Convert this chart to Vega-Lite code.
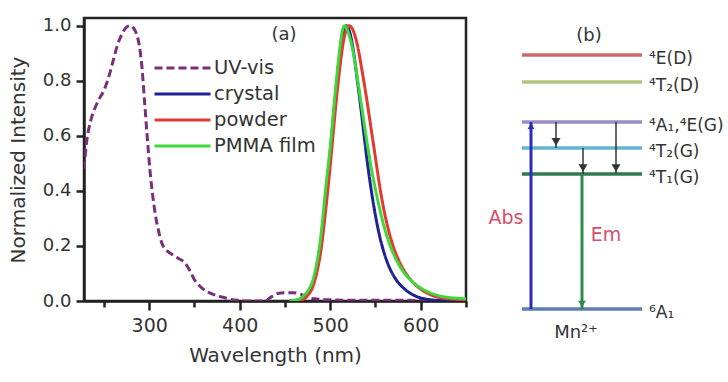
{
  "$schema": "https://vega.github.io/schema/vega-lite/v6.json",
  "padding": {"left": 7, "top": 15, "right": 0, "bottom": 0},
  "spacing": 10,
  "resolve": {"scale": {"color": "independent", "strokeDash": "independent"}, "legend": {"color": "independent", "strokeDash": "independent"}},
  "config": {
    "view": {"stroke": null},
    "font": "DejaVu Sans",
    "text": {"font": "DejaVu Sans"}
  },
  "datasets": {
    "spectra": [
      {"s":"UV-vis","wl":228,"v":0.48},{"s":"UV-vis","wl":231,"v":0.58},{"s":"UV-vis","wl":235,"v":0.65},{"s":"UV-vis","wl":240,"v":0.7},{"s":"UV-vis","wl":245,"v":0.735},{"s":"UV-vis","wl":250,"v":0.765},{"s":"UV-vis","wl":255,"v":0.81},{"s":"UV-vis","wl":260,"v":0.87},{"s":"UV-vis","wl":265,"v":0.93},{"s":"UV-vis","wl":270,"v":0.97},{"s":"UV-vis","wl":275,"v":0.995},{"s":"UV-vis","wl":279,"v":1.0},{"s":"UV-vis","wl":283,"v":0.99},{"s":"UV-vis","wl":286,"v":0.97},{"s":"UV-vis","wl":289,"v":0.93},{"s":"UV-vis","wl":292,"v":0.85},{"s":"UV-vis","wl":295,"v":0.72},{"s":"UV-vis","wl":298,"v":0.59},{"s":"UV-vis","wl":301,"v":0.47},{"s":"UV-vis","wl":304,"v":0.38},{"s":"UV-vis","wl":307,"v":0.31},{"s":"UV-vis","wl":310,"v":0.26},{"s":"UV-vis","wl":314,"v":0.21},{"s":"UV-vis","wl":319,"v":0.185},{"s":"UV-vis","wl":325,"v":0.17},{"s":"UV-vis","wl":332,"v":0.155},{"s":"UV-vis","wl":339,"v":0.14},{"s":"UV-vis","wl":345,"v":0.11},{"s":"UV-vis","wl":350,"v":0.077},{"s":"UV-vis","wl":355,"v":0.057},{"s":"UV-vis","wl":361,"v":0.04},{"s":"UV-vis","wl":370,"v":0.025},{"s":"UV-vis","wl":380,"v":0.015},{"s":"UV-vis","wl":390,"v":0.006},{"s":"UV-vis","wl":400,"v":0.002},{"s":"UV-vis","wl":415,"v":0.0},{"s":"UV-vis","wl":428,"v":0.0},{"s":"UV-vis","wl":435,"v":0.015},{"s":"UV-vis","wl":442,"v":0.027},{"s":"UV-vis","wl":450,"v":0.03},{"s":"UV-vis","wl":460,"v":0.03},{"s":"UV-vis","wl":467,"v":0.025},{"s":"UV-vis","wl":474,"v":0.014},{"s":"UV-vis","wl":482,"v":0.008},{"s":"UV-vis","wl":495,"v":0.005},{"s":"UV-vis","wl":520,"v":0.003},{"s":"UV-vis","wl":560,"v":0.003},{"s":"UV-vis","wl":600,"v":0.002},{"s":"UV-vis","wl":650,"v":0.002},
      {"s":"crystal","wl":455,"v":0.0},{"s":"crystal","wl":460,"v":0.002},{"s":"crystal","wl":465,"v":0.004},{"s":"crystal","wl":470,"v":0.009},{"s":"crystal","wl":475,"v":0.025},{"s":"crystal","wl":480,"v":0.055},{"s":"crystal","wl":485,"v":0.12},{"s":"crystal","wl":490,"v":0.22},{"s":"crystal","wl":495,"v":0.38},{"s":"crystal","wl":500,"v":0.54},{"s":"crystal","wl":505,"v":0.72},{"s":"crystal","wl":510,"v":0.88},{"s":"crystal","wl":514,"v":0.97},{"s":"crystal","wl":518,"v":1.0},{"s":"crystal","wl":522,"v":0.97},{"s":"crystal","wl":526,"v":0.9},{"s":"crystal","wl":530,"v":0.8},{"s":"crystal","wl":535,"v":0.67},{"s":"crystal","wl":540,"v":0.53},{"s":"crystal","wl":545,"v":0.41},{"s":"crystal","wl":550,"v":0.31},{"s":"crystal","wl":555,"v":0.23},{"s":"crystal","wl":560,"v":0.17},{"s":"crystal","wl":565,"v":0.125},{"s":"crystal","wl":570,"v":0.092},{"s":"crystal","wl":575,"v":0.068},{"s":"crystal","wl":580,"v":0.05},{"s":"crystal","wl":585,"v":0.036},{"s":"crystal","wl":590,"v":0.025},{"s":"crystal","wl":595,"v":0.017},{"s":"crystal","wl":600,"v":0.011},{"s":"crystal","wl":610,"v":0.005},{"s":"crystal","wl":620,"v":0.002},{"s":"crystal","wl":650,"v":0.001},
      {"s":"powder","wl":455,"v":0.0},{"s":"powder","wl":465,"v":0.002},{"s":"powder","wl":470,"v":0.006},{"s":"powder","wl":475,"v":0.02},{"s":"powder","wl":480,"v":0.045},{"s":"powder","wl":485,"v":0.1},{"s":"powder","wl":490,"v":0.19},{"s":"powder","wl":495,"v":0.33},{"s":"powder","wl":500,"v":0.49},{"s":"powder","wl":505,"v":0.67},{"s":"powder","wl":510,"v":0.83},{"s":"powder","wl":515,"v":0.95},{"s":"powder","wl":521,"v":1.0},{"s":"powder","wl":525,"v":0.985},{"s":"powder","wl":530,"v":0.93},{"s":"powder","wl":535,"v":0.84},{"s":"powder","wl":540,"v":0.74},{"s":"powder","wl":545,"v":0.63},{"s":"powder","wl":550,"v":0.52},{"s":"powder","wl":555,"v":0.41},{"s":"powder","wl":560,"v":0.32},{"s":"powder","wl":565,"v":0.25},{"s":"powder","wl":570,"v":0.195},{"s":"powder","wl":575,"v":0.153},{"s":"powder","wl":580,"v":0.12},{"s":"powder","wl":585,"v":0.094},{"s":"powder","wl":590,"v":0.073},{"s":"powder","wl":595,"v":0.056},{"s":"powder","wl":600,"v":0.043},{"s":"powder","wl":610,"v":0.024},{"s":"powder","wl":620,"v":0.013},{"s":"powder","wl":635,"v":0.007},{"s":"powder","wl":650,"v":0.005},
      {"s":"PMMA film","wl":455,"v":0.0},{"s":"PMMA film","wl":465,"v":0.006},{"s":"PMMA film","wl":470,"v":0.017},{"s":"PMMA film","wl":475,"v":0.035},{"s":"PMMA film","wl":480,"v":0.068},{"s":"PMMA film","wl":485,"v":0.135},{"s":"PMMA film","wl":490,"v":0.246},{"s":"PMMA film","wl":495,"v":0.41},{"s":"PMMA film","wl":500,"v":0.56},{"s":"PMMA film","wl":505,"v":0.74},{"s":"PMMA film","wl":510,"v":0.9},{"s":"PMMA film","wl":513,"v":0.975},{"s":"PMMA film","wl":516,"v":1.0},{"s":"PMMA film","wl":520,"v":0.975},{"s":"PMMA film","wl":525,"v":0.91},{"s":"PMMA film","wl":530,"v":0.81},{"s":"PMMA film","wl":535,"v":0.7},{"s":"PMMA film","wl":540,"v":0.59},{"s":"PMMA film","wl":545,"v":0.49},{"s":"PMMA film","wl":550,"v":0.405},{"s":"PMMA film","wl":555,"v":0.33},{"s":"PMMA film","wl":560,"v":0.265},{"s":"PMMA film","wl":565,"v":0.212},{"s":"PMMA film","wl":570,"v":0.17},{"s":"PMMA film","wl":575,"v":0.137},{"s":"PMMA film","wl":580,"v":0.11},{"s":"PMMA film","wl":585,"v":0.089},{"s":"PMMA film","wl":590,"v":0.072},{"s":"PMMA film","wl":595,"v":0.058},{"s":"PMMA film","wl":600,"v":0.047},{"s":"PMMA film","wl":605,"v":0.038},{"s":"PMMA film","wl":610,"v":0.03},{"s":"PMMA film","wl":615,"v":0.024},{"s":"PMMA film","wl":620,"v":0.019},{"s":"PMMA film","wl":630,"v":0.013},{"s":"PMMA film","wl":640,"v":0.01},{"s":"PMMA film","wl":650,"v":0.008}
    ],
    "levels": [
      {"lev":"4E(D)","e":9.77,"label":"⁴E(D)"},
      {"lev":"4T2(D)","e":8.87,"label":"⁴T₂(D)"},
      {"lev":"4A1,4E(G)","e":7.53,"label":"⁴A₁,⁴E(G)"},
      {"lev":"4T2(G)","e":6.67,"label":"⁴T₂(G)"},
      {"lev":"4T1(G)","e":5.8,"label":"⁴T₁(G)"},
      {"lev":"6A1","e":1.3,"label":"⁶A₁"}
    ],
    "transitions": [
      {"t":"Abs","x":2.08,"from":1.3,"to":7.53},
      {"t":"Em","x":4.12,"from":5.8,"to":1.3},
      {"t":"relax","x":3.08,"from":7.53,"to":6.67},
      {"t":"relax","x":4.16,"from":6.67,"to":5.8},
      {"t":"relax","x":5.48,"from":7.53,"to":5.8}
    ]
  },
  "hconcat": [
    {
      "width": 382,
      "height": 283,
      "view": {"stroke": "#222", "strokeWidth": 2.5},
      "layer": [
        {
          "data": {"name": "spectra"},
          "mark": {"type": "line", "strokeWidth": 3, "interpolate": "monotone", "clip": true},
          "encoding": {
            "x": {"field": "wl", "type": "quantitative", "title": "Wavelength (nm)",
              "scale": {"domain": [228, 650], "nice": false, "zero": false},
              "axis": {"values": [250,300,350,400,450,500,550,600,650], "format": "d",
                "labelExpr": "datum.value % 100 === 0 ? datum.label : ''",
                "tickSize": {"condition": {"test": "datum.value % 100 === 0", "value": 9}, "value": 6},
                "tickWidth": 2.5, "tickColor": "#222", "domainColor": "#222", "domainWidth": 2.5,
                "labelFontSize": 19, "labelColor": "#333", "labelPadding": 6, "labelFlush": false,
                "titleFontSize": 20, "titleFontWeight": "normal", "titleColor": "#333", "titlePadding": 10, "grid": false}},
            "y": {"field": "v", "type": "quantitative", "title": "Normalized Intensity",
              "scale": {"domain": [0, 1.028], "nice": false},
              "axis": {"values": [0,0.1,0.2,0.3,0.4,0.5,0.6,0.7,0.8,0.9,1.0],
                "labelExpr": "round(datum.value*10) % 2 === 0 ? format(datum.value, '.1f') : ''",
                "tickSize": {"condition": {"test": "round(datum.value*10) % 2 === 0", "value": 8}, "value": 5},
                "tickWidth": 2.5, "tickColor": "#222", "domainColor": "#222", "domainWidth": 2.5,
                "labelFontSize": 18, "labelColor": "#333", "labelPadding": 5, "labelFlush": false,
                "titleFontSize": 20, "titleFontWeight": "normal", "titleColor": "#333", "titlePadding": 14, "grid": false}},
            "color": {"field": "s", "type": "nominal",
              "scale": {"domain": ["UV-vis","crystal","powder","PMMA film"], "range": ["#7b2f7b","#1c2296","#e23a2e","#3ed83e"]},
              "legend": {"orient": "none", "legendX": 69, "legendY": 40, "title": null, "symbolType": "stroke", "symbolSize": 3136, "symbolStrokeWidth": 3, "clipHeight": 20, "rowPadding": 6, "labelFontSize": 19.5, "labelColor": "#333", "labelOffset": 2, "padding": 0, "labelFont": "DejaVu Sans"}},
            "strokeDash": {"field": "s", "type": "nominal",
              "scale": {"domain": ["UV-vis","crystal","powder","PMMA film"], "range": [[8,4],[1,0],[1,0],[1,0]]},
              "legend": {"orient": "none", "legendX": 69, "legendY": 40, "title": null, "symbolType": "stroke", "symbolSize": 3136, "symbolStrokeWidth": 3, "clipHeight": 20, "rowPadding": 6, "labelFontSize": 19.5, "labelColor": "#333", "labelOffset": 2, "padding": 0, "labelFont": "DejaVu Sans"}}
          }
        },
        {
          "data": {"values": [{"t": "(a)", "wl": 449, "v": 0.966}]},
          "mark": {"type": "text", "fontSize": 18, "color": "#333", "align": "center", "baseline": "middle"},
          "encoding": {
            "x": {"field": "wl", "type": "quantitative", "title": "Wavelength (nm)"},
            "y": {"field": "v", "type": "quantitative", "title": "Normalized Intensity"},
            "text": {"field": "t"}
          }
        }
      ]
    },
    {
      "width": 250,
      "height": 330,
      "layer": [
        {
          "data": {"name": "levels"},
          "mark": {"type": "rule", "strokeWidth": 3.5},
          "encoding": {
            "x": {"datum": 1.72, "type": "quantitative", "scale": {"domain": [0, 10], "nice": false}, "axis": null},
            "x2": {"datum": 6.52},
            "y": {"field": "e", "type": "quantitative", "scale": {"domain": [0, 11], "nice": false}, "axis": null},
            "color": {"field": "lev", "type": "nominal", "legend": null,
              "scale": {"domain": ["4E(D)","4T2(D)","4A1,4E(G)","4T2(G)","4T1(G)","6A1","Abs","Em","relax"],
                "range": ["#c96a6a","#b3c47e","#9d8cc4","#5fb7cf","#2f7a4f","#5d7fae","#2b2bbf","#2e8b4e","#333333"]}}
          }
        },
        {
          "data": {"name": "levels"},
          "mark": {"type": "text", "fontSize": 17, "color": "#333", "align": "left", "baseline": "middle", "dy": 4},
          "encoding": {
            "x": {"datum": 6.8, "type": "quantitative"},
            "y": {"field": "e", "type": "quantitative"},
            "text": {"field": "label"}
          }
        },
        {
          "data": {"name": "transitions"},
          "transform": [{"filter": "datum.t !== 'relax'"}],
          "mark": {"type": "rule", "strokeWidth": 3},
          "encoding": {
            "x": {"field": "x", "type": "quantitative"},
            "y": {"field": "from", "type": "quantitative"},
            "y2": {"field": "to"},
            "color": {"field": "t", "type": "nominal", "legend": null}
          }
        },
        {
          "data": {"name": "transitions"},
          "transform": [{"filter": "datum.t === 'relax'"}],
          "mark": {"type": "rule", "strokeWidth": 1.5},
          "encoding": {
            "x": {"field": "x", "type": "quantitative"},
            "y": {"field": "from", "type": "quantitative"},
            "y2": {"field": "to"},
            "color": {"field": "t", "type": "nominal", "legend": null}
          }
        },
        {
          "data": {"name": "transitions"},
          "transform": [{"filter": "datum.t === 'relax'"}],
          "mark": {"type": "point", "shape": "triangle-down", "filled": true, "opacity": 1, "size": 80, "yOffset": -6},
          "encoding": {
            "x": {"field": "x", "type": "quantitative"},
            "y": {"field": "to", "type": "quantitative"},
            "color": {"field": "t", "type": "nominal", "legend": null}
          }
        },
        {
          "data": {"name": "transitions"},
          "transform": [{"filter": "datum.t === 'Em'"}],
          "mark": {"type": "point", "shape": "triangle-down", "filled": true, "opacity": 1, "size": 60, "yOffset": -5},
          "encoding": {
            "x": {"field": "x", "type": "quantitative"},
            "y": {"field": "to", "type": "quantitative"},
            "color": {"field": "t", "type": "nominal", "legend": null}
          }
        },
        {
          "data": {"name": "transitions"},
          "transform": [{"filter": "datum.t === 'Abs'"}],
          "mark": {"type": "point", "shape": "triangle-up", "filled": true, "opacity": 1, "size": 45, "yOffset": 4},
          "encoding": {
            "x": {"field": "x", "type": "quantitative"},
            "y": {"field": "to", "type": "quantitative"},
            "color": {"field": "t", "type": "nominal", "legend": null}
          }
        },
        {
          "data": {"values": [{"t": "(b)", "x": 4.4, "e": 10.4}, {"t": "Mn²⁺", "x": 3.88, "e": 0.5}]},
          "mark": {"type": "text", "fontSize": 18, "color": "#333", "align": "center", "baseline": "middle"},
          "encoding": {
            "x": {"field": "x", "type": "quantitative"},
            "y": {"field": "e", "type": "quantitative"},
            "text": {"field": "t"}
          }
        },
        {
          "data": {"values": [{"t": "Abs", "x": 1.08, "e": 4.33}, {"t": "Em", "x": 5.08, "e": 3.77}]},
          "mark": {"type": "text", "fontSize": 19, "color": "#d5506a", "align": "center", "baseline": "middle"},
          "encoding": {
            "x": {"field": "x", "type": "quantitative"},
            "y": {"field": "e", "type": "quantitative"},
            "text": {"field": "t"}
          }
        }
      ]
    }
  ]
}
